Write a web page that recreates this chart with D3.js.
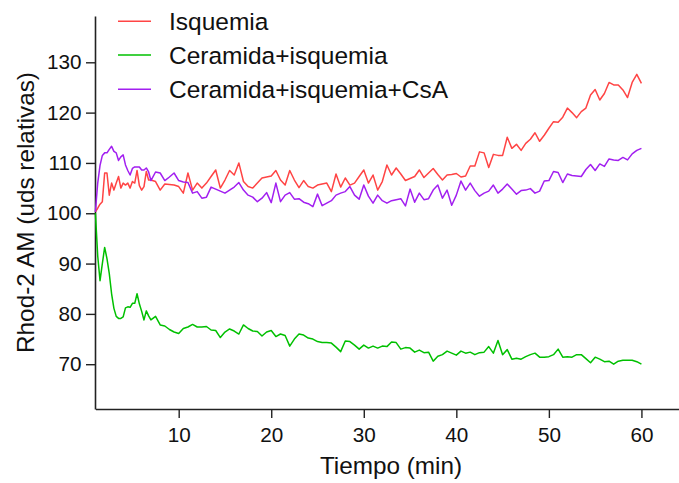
<!DOCTYPE html>
<html>
<head>
<meta charset="utf-8">
<script src="https://cdn.jsdelivr.net/npm/d3@7"></script>
<style>
  body { margin: 0; background: #fff; }
  svg text { font-family: "Liberation Sans", Arial, sans-serif; fill: #111; }
</style>
</head>
<body>
<script>
// sizes
var w = 679;
var h = 483;

// time points (min): every 15 s up to min 7, then every 30 s
var tiempo = d3.range(1, 7, 0.25).concat(d3.range(7, 60.5, 0.5));

var isquemia = [
  100.3, 101, 101.8, 102.3, 108, 108, 103.6, 106, 104.6, 106, 107.3, 105,
  106, 105.6, 106, 105, 106.3, 106, 108.5, 105.5, 104.6, 105.3, 108.3, 106.6,
  106.6,
  106.3, 104.6, 105.8, 105.7, 105.6, 105.3, 104, 108, 104.6, 106, 105, 106,
  107.3, 108.6, 105, 106.6, 108.5, 107.6, 110, 106.3, 105.3, 105, 106, 107,
  107.2, 107.4, 108.5, 106.6, 105.6, 108.5, 106.6, 105.1, 106.5, 105.3, 105,
  105.6, 105.8, 106, 104.3, 107.8, 105.2, 107, 105.6, 106, 107.3, 108.6, 106,
  107.6, 104.6, 106.3, 109.6, 107.6, 109, 107.8, 106.5, 106.9, 107.3, 108.6,
  107.1, 108, 108.9, 107.7, 106.6, 107.6, 107.7, 107.9, 107.2, 107.4, 109.4,
  109.4, 112.2, 112, 109.1, 111.7, 111.5, 111.5, 115.1, 112.9, 113.7, 112.5,
  113.9, 114.7, 116, 114.3, 115.5, 116.9, 118.2, 118.1, 119.1, 120.9, 120,
  119, 120.2, 120.9, 123.5, 124.6, 122.5, 123.8, 126, 125.5, 125.5, 124.5,
  123, 126, 127.6, 125.8
];

var ceramida = [
  100, 91.5, 86.6, 90, 93.2, 91, 88, 84, 81.1, 79.5, 79.1, 79.1,
  79.4, 81.2, 81.4, 81.3, 82.1, 82.1, 84, 82, 80.5, 78.8, 80.6, 79.6,
  78.8,
  79.5, 77.8, 77.6, 76.9, 76.4, 76.1, 77.1, 77.4, 77.9, 77.4, 77.4, 77.5,
  76.8, 76.7, 75.3, 76.4, 77, 76.6, 76, 77.8, 77.1, 76.6, 76.5, 75.6,
  76.4, 76.7, 75.5, 76, 75.7, 73.6, 75, 76, 75.8, 75.2, 75,
  74.5, 74.3, 74.3, 74.2, 73.4, 72.5, 74.6, 74.5, 73.8, 73, 73.8, 73.2,
  73.6, 73.2, 73.6, 73.5, 74.4, 74.3, 73, 73.3, 73.2, 72.4, 72.8,
  72.3, 72.4, 70.6, 71.6, 71.9, 72.6, 72.2, 71.8, 72.6, 72.2, 72.4,
  71.9, 72.3, 72.4, 73.5, 72.2, 74.7, 71.9, 72.9, 71, 71.2, 71,
  71.5, 71.9, 72.2, 71.4, 71.4, 71.5, 71.9, 73, 71.4, 71.5, 71.4,
  71.9, 71.9, 71.1, 70.3, 71.4, 71, 70.5, 70.6, 70, 70.6, 70.8,
  70.8, 70.8, 70.5, 70
];

var ceramidaCsA = [
  100.3, 106, 109.5, 111.5, 112, 112, 112.7, 113.3, 112.3, 112, 110.5, 111.2,
  111.6, 109.6, 108.5, 107.6, 108.9, 109.2, 109.2, 109.2, 108.6, 108.6, 109, 108.2,
  106.5,
  108.2, 108, 106.5, 107.2, 108, 106.5, 106.2, 106.1, 104, 104.3, 103, 103.2,
  105.2, 104.8, 104.4, 104, 104.6, 105.2, 106.1, 104.6, 103.6, 103.2, 102.3, 103,
  104.1, 102.1, 106, 102.3, 103.6, 104.1, 102.8, 102.9, 102.2, 101.9, 101.3,
  103.8, 101.5, 102, 102.5, 103.6, 104, 104.3, 105.3, 103.6, 102.8, 105.6, 103.4,
  102, 103.6, 102.5, 102, 102.5, 102.7, 102.9, 101.45, 104.8, 102.2, 104,
  102.7, 102.9, 104.6, 105.6, 103, 104.6, 101.6, 103.6, 106.4, 104.6, 106,
  104.5, 103.4, 104, 104.4, 105.6, 104, 104.8, 105.8, 104.8, 103.8, 104.5,
  104.6, 104.9, 104, 104.4, 106.4, 106.5, 108.3, 108.1, 106.1, 107.8, 107.5,
  107.4, 107.3, 108.7, 109.7, 108.5, 109.8, 109.3, 110.8, 110.6, 110.5, 111.1,
  110.6, 111.8, 112.5, 112.9
];

var series = ["Isquemia", "Ceramida+isquemia", "Ceramida+isquemia+CsA"];
var colores = ["#ff4444", "#00c000", "#a21ff0"];
var xTicks = [10, 20, 30, 40, 50, 60];
var yTicks = [70, 80, 90, 100, 110, 120, 130];

var svg = d3.select("body")
  .append("svg")
  .attr("width", w)
  .attr("height", h);

var x = d3.scaleLinear().domain([1, 64.06]).range([95.4, 679]);
var y = d3.scaleLinear().domain([61.1, 139.2]).range([409, 16]);

// axes
var gx = svg.append("g")
  .attr("transform", "translate(0,409)")
  .call(d3.axisBottom(x).tickValues(xTicks).tickSize(9).tickSizeOuter(0).tickPadding(9));

var gy = svg.append("g")
  .attr("transform", "translate(95,0)")
  .call(d3.axisLeft(y).tickValues(yTicks).tickSize(9).tickSizeOuter(0).tickPadding(4.5));

[gx, gy].forEach(function(g) {
  g.select(".domain").attr("stroke", "#222").attr("stroke-width", 1.6);
  g.selectAll(".tick line").attr("stroke", "#222").attr("stroke-width", 1.4);
  g.selectAll(".tick text")
    .attr("font-size", "20.7px")
    .attr("font-family", "Liberation Sans, Arial, sans-serif")
    .attr("fill", "#111");
});

// lines
var datos = [isquemia, ceramida, ceramidaCsA];
var line = d3.line()
  .x(function(d, i) { return x(tiempo[i]); })
  .y(function(d) { return y(d); });

svg.selectAll("path.serie")
  .data(datos)
  .enter()
  .append("path")
  .attr("class", "serie")
  .attr("d", line)
  .attr("fill", "none")
  .attr("stroke", function(d, i) { return colores[i]; })
  .attr("stroke-width", 1.5)
  .attr("stroke-linejoin", "round");

// legend
var legY = [21.3, 55, 89.3];
var leg = svg.selectAll("g.leg")
  .data(series)
  .enter()
  .append("g")
  .attr("class", "leg")
  .attr("transform", function(d, i) { return "translate(0," + legY[i] + ")"; });

leg.append("line")
  .attr("x1", 118).attr("x2", 151)
  .attr("stroke", function(d, i) { return colores[i]; })
  .attr("stroke-width", 1.5);

leg.append("text")
  .attr("x", 169)
  .attr("y", 8.5)
  .attr("font-size", "24.5px")
  .text(function(d) { return d; });

// axis titles
svg.append("text")
  .attr("x", 391)
  .attr("y", 474)
  .attr("text-anchor", "middle")
  .attr("font-size", "24.3px")
  .text("Tiempo (min)");

svg.append("text")
  .attr("transform", "translate(34,212.5) rotate(-90)")
  .attr("text-anchor", "middle")
  .attr("font-size", "24.3px")
  .text("Rhod-2 AM (uds relativas)");
</script>
</body>
</html>
